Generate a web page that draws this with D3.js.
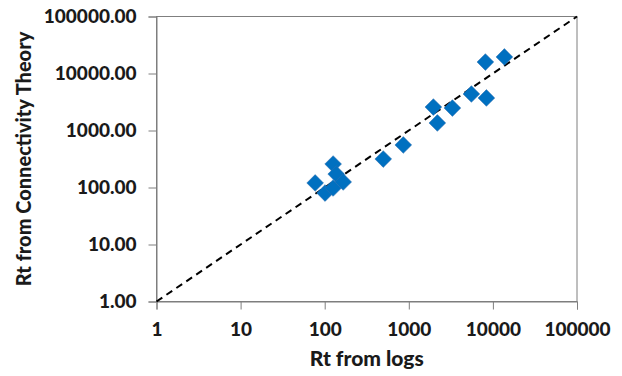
<!DOCTYPE html>
<html>
<head>
<meta charset="utf-8">
<script src="https://cdn.jsdelivr.net/npm/d3@7"></script>
<style>
  body { margin: 0; background: #fff; }
  svg text { font-family: Lato, "Open Sans", sans-serif; font-weight: 900; fill: #1a1a1a; }
</style>
</head>
<body>
<svg id="chart" width="622" height="376"></svg>
<script>
// Data
const rtLogs = [77, 101, 126, 137, 126, 166, 497, 860, 1960, 2185, 3300, 5550, 8140, 8370, 13700];
const rtConnectivity = [120, 80, 258, 172, 98, 125, 316, 557, 2580, 1355, 2480, 4370, 15900, 3720, 19500];
const xTicks = [1, 10, 100, 1000, 10000, 100000];
const yTicks = [1, 10, 100, 1000, 10000, 100000];
const lineEnds = [1, 100000];

const margin = { left: 156.5, right: 45, top: 16.5, bottom: 74.5 };
const width = 622, height = 376;

const svg = d3.select("#chart");

const x = d3.scaleLog().domain([1, 100000]).range([margin.left, width - margin.right]);
const y = d3.scaleLog().domain([1, 100000]).range([height - margin.bottom, margin.top]);

// Plot box
svg.append("rect")
    .attr("x", x(1)).attr("y", y(100000))
    .attr("width", x(100000) - x(1)).attr("height", y(1) - y(100000))
    .style("fill", "none").style("stroke", "#7f7f7f").style("stroke-width", 1);

// Axes
const xAxis = svg.append("g")
    .attr("transform", `translate(0,${y(1)})`)
    .call(d3.axisBottom(x).tickValues(xTicks).tickFormat(d3.format("d")).tickSize(8).tickPadding(13));
const yAxis = svg.append("g")
    .attr("transform", `translate(${x(1)},0)`)
    .call(d3.axisLeft(y).tickValues(yTicks).tickFormat(d3.format(".2f")).tickSize(8).tickPadding(12));

[xAxis, yAxis].forEach(a => {
    a.select(".domain").style("stroke", "#7f7f7f");
    a.selectAll(".tick line").style("stroke", "#7f7f7f");
    a.selectAll("text").style("font-size", "19px").attr("fill", null);
    a.attr("font-family", null).attr("font-size", null);
});

// 1:1 line
svg.append("line")
    .attr("x1", x(lineEnds[0])).attr("y1", y(lineEnds[0]))
    .attr("x2", x(lineEnds[1])).attr("y2", y(lineEnds[1]))
    .style("stroke", "#000").style("stroke-width", 2).style("stroke-dasharray", "7,5");

// Points
const pts = rtLogs.map((v, i) => ({ x: v, y: rtConnectivity[i] }));
svg.selectAll(".pt")
    .data(pts)
    .enter().append("path")
    .attr("class", "pt")
    .attr("d", d3.symbol().type(d3.symbolSquare).size(140))
    .attr("transform", d => `translate(${x(d.x)},${y(d.y)}) rotate(45)`)
    .style("fill", "#0070c0")
    .style("stroke", "#2f6fb0")
    .style("stroke-width", 0.5);

// Axis titles
svg.append("text")
    .attr("x", (x(1) + x(100000)) / 2).attr("y", 366)
    .attr("text-anchor", "middle")
    .style("font-size", "21px")
    .text("Rt from logs");

svg.append("text")
    .attr("transform", `translate(31,${(y(1) + y(100000)) / 2}) rotate(-90)`)
    .attr("text-anchor", "middle")
    .style("font-size", "20px")
    .text("Rt from Connectivity Theory");
</script>
</body>
</html>
